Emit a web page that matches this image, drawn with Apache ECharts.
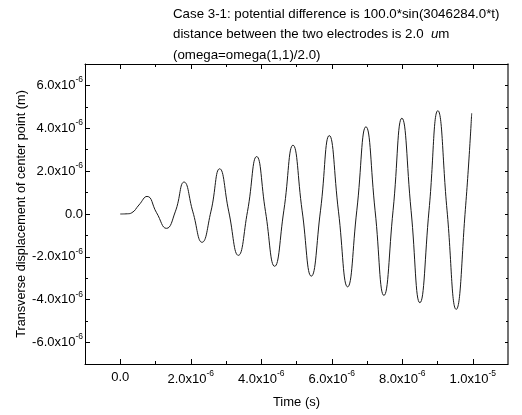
<!DOCTYPE html>
<html><head><meta charset="utf-8">
<script src="https://cdn.jsdelivr.net/npm/echarts@6/dist/echarts.min.js"></script>
<style>html,body{margin:0;padding:0;background:#fff}#c{width:522px;height:415px}</style>
</head><body><div id="c"></div>
<script>
// time (s)
const timeValues = [0, 0.2e-6, 0.33e-6, 0.53e-6, 0.76e-6, 1.03e-6, 1.31e-6, 1.56e-6, 1.81e-6, 2.06e-6, 2.32e-6, 2.57e-6, 2.82e-6, 3.08e-6, 3.35e-6, 3.61e-6, 3.87e-6, 4.12e-6, 4.38e-6, 4.64e-6, 4.90e-6, 5.16e-6, 5.42e-6, 5.68e-6, 5.93e-6, 6.19e-6, 6.45e-6, 6.71e-6, 6.97e-6, 7.23e-6, 7.48e-6, 7.74e-6, 7.99e-6, 8.25e-6, 8.50e-6, 8.76e-6, 9.01e-6, 9.27e-6, 9.53e-6, 9.79e-6, 9.97e-6];
// transverse displacement (m)
const dispValues = [0, 0.01e-6, 0.06e-6, 0.42e-6, 0.82e-6, 0.06e-6, -0.67e-6, 0.1e-6, 1.49e-6, 0.1e-6, -1.32e-6, 0.1e-6, 2.11e-6, 0.1e-6, -1.93e-6, 0.12e-6, 2.68e-6, 0.12e-6, -2.44e-6, 0.15e-6, 3.21e-6, 0.15e-6, -2.90e-6, 0.15e-6, 3.66e-6, 0.13e-6, -3.40e-6, 0.15e-6, 4.07e-6, 0.15e-6, -3.80e-6, 0.17e-6, 4.47e-6, 0.17e-6, -4.14e-6, 0.18e-6, 4.82e-6, 0.18e-6, -4.45e-6, 0.2e-6, 4.70e-6];
const xMajorTicks = [0, 2e-6, 4e-6, 6e-6, 8e-6, 1e-5];
const xMinorTicks = [1e-6, 3e-6, 5e-6, 7e-6, 9e-6];
const yMajorTicks = [-6e-6, -4e-6, -2e-6, 0, 2e-6, 4e-6, 6e-6];
const yMinorTicks = [-5e-6, -3e-6, -1e-6, 1e-6, 3e-6, 5e-6];
const titleLines = ['Case 3-1: potential difference is 100.0*sin(3046284.0*t)', 'distance between the two electrodes is 2.0  {i|u}m', '(omega=omega(1,1)/2.0)'];
const xTitle = 'Time (s)';
const yTitle = 'Transverse displacement of center point (m)';

const FONT = 'Liberation Sans';
function fmt(v) {
  if (Math.abs(v) < 1e-12) return '{b|0.0}';
  const e = Math.round(Math.floor(Math.log10(Math.abs(v)) + 1e-9));
  const m = v / Math.pow(10, e);
  return '{b|' + m.toFixed(1) + 'x10}{s|' + e + '}';
}
const rich = {
  b: { fontSize: 13, fontFamily: FONT, color: '#000', lineHeight: 16 },
  s: { fontSize: 8.5, fontFamily: FONT, color: '#000', padding: [0, 0, 11, 0] }
};
const lineStyle = { color: '#000', width: 1 };
function hiddenLine() { return { show: false, onZero: false }; }
function baseAxis(extra) {
  return Object.assign({
    type: 'value', gridIndex: 0, splitLine: { show: false },
    axisLine: { show: true, lineStyle: lineStyle, onZero: false },
  }, extra);
}
const xmin = -1e-6, xmax = 1.1e-5, ymin = -7e-6, ymax = 7e-6;
const chart = echarts.init(document.getElementById('c'), null, { renderer: 'canvas' });
chart.setOption({
  animation: false,
  backgroundColor: '#fff',
  title: {
    text: titleLines.join('\n'), left: 168, top: -1,
    textStyle: { fontFamily: FONT, fontSize: 13.3, fontWeight: 'normal', color: '#000', lineHeight: 20.5,
      rich: { i: { fontStyle: 'italic', fontFamily: FONT, fontSize: 13.3, color: '#000', lineHeight: 20.5 } } }
  },
  grid: { left: 85, right: 14, top: 64, bottom: 51, containLabel: false },
  xAxis: [
    baseAxis({ position: 'bottom', min: xmin, max: xmax, interval: 1e-6,
      name: xTitle, nameLocation: 'middle', nameGap: 32, nameMoveOverlap: false,
      nameTextStyle: { fontFamily: FONT, fontSize: 13, color: '#000' },
      axisTick: { show: true, inside: true, length: 5, customValues: xMajorTicks, lineStyle: lineStyle },
      axisLabel: { show: true, customValues: xMajorTicks, formatter: fmt, color: '#000', margin: 5, rich: rich } }),
    baseAxis({ position: 'bottom', min: xmin, max: xmax, interval: 1e-6,
      axisLine: hiddenLine(),
      axisTick: { show: true, inside: true, length: 3, customValues: xMinorTicks, lineStyle: lineStyle },
      axisLabel: { show: false } }),
    baseAxis({ position: 'top', min: xmin, max: xmax, interval: 1e-6,
      axisTick: { show: true, inside: true, length: 5, customValues: xMajorTicks, lineStyle: lineStyle },
      axisLabel: { show: false } }),
    baseAxis({ position: 'top', min: xmin, max: xmax, interval: 1e-6,
      axisLine: hiddenLine(),
      axisTick: { show: true, inside: true, length: 3, customValues: xMinorTicks, lineStyle: lineStyle },
      axisLabel: { show: false } })
  ],
  yAxis: [
    baseAxis({ position: 'left', min: ymin, max: ymax, interval: 1e-6,
      name: yTitle, nameLocation: 'middle', nameGap: 57, nameMoveOverlap: false,
      nameTextStyle: { fontFamily: FONT, fontSize: 12.7, color: '#000' },
      axisTick: { show: true, inside: true, length: 5, customValues: yMajorTicks, lineStyle: lineStyle },
      axisLabel: { show: true, customValues: yMajorTicks, formatter: fmt, color: '#000', margin: 2, rich: rich } }),
    baseAxis({ position: 'left', min: ymin, max: ymax, interval: 1e-6,
      axisLine: hiddenLine(),
      axisTick: { show: true, inside: true, length: 3, customValues: yMinorTicks, lineStyle: lineStyle },
      axisLabel: { show: false } }),
    baseAxis({ position: 'right', min: ymin, max: ymax, interval: 1e-6,
      axisLine: { show: true, onZero: false, lineStyle: { color: '#444', width: 1.5 } },
      axisTick: { show: true, inside: true, length: 3, customValues: yMajorTicks, lineStyle: lineStyle },
      axisLabel: { show: false } }),
    baseAxis({ position: 'right', min: ymin, max: ymax, interval: 1e-6,
      axisLine: hiddenLine(),
      axisTick: { show: true, inside: true, length: 2, customValues: yMinorTicks, lineStyle: lineStyle },
      axisLabel: { show: false } })
  ],
  series: [{
    type: 'line', xAxisIndex: 0, yAxisIndex: 0,
    data: timeValues.map((t, i) => [t, dispValues[i]]),
    showSymbol: false, smooth: 0.5, lineStyle: { color: '#1a1a1a', width: 1 }
  }]
});
</script></body></html>
